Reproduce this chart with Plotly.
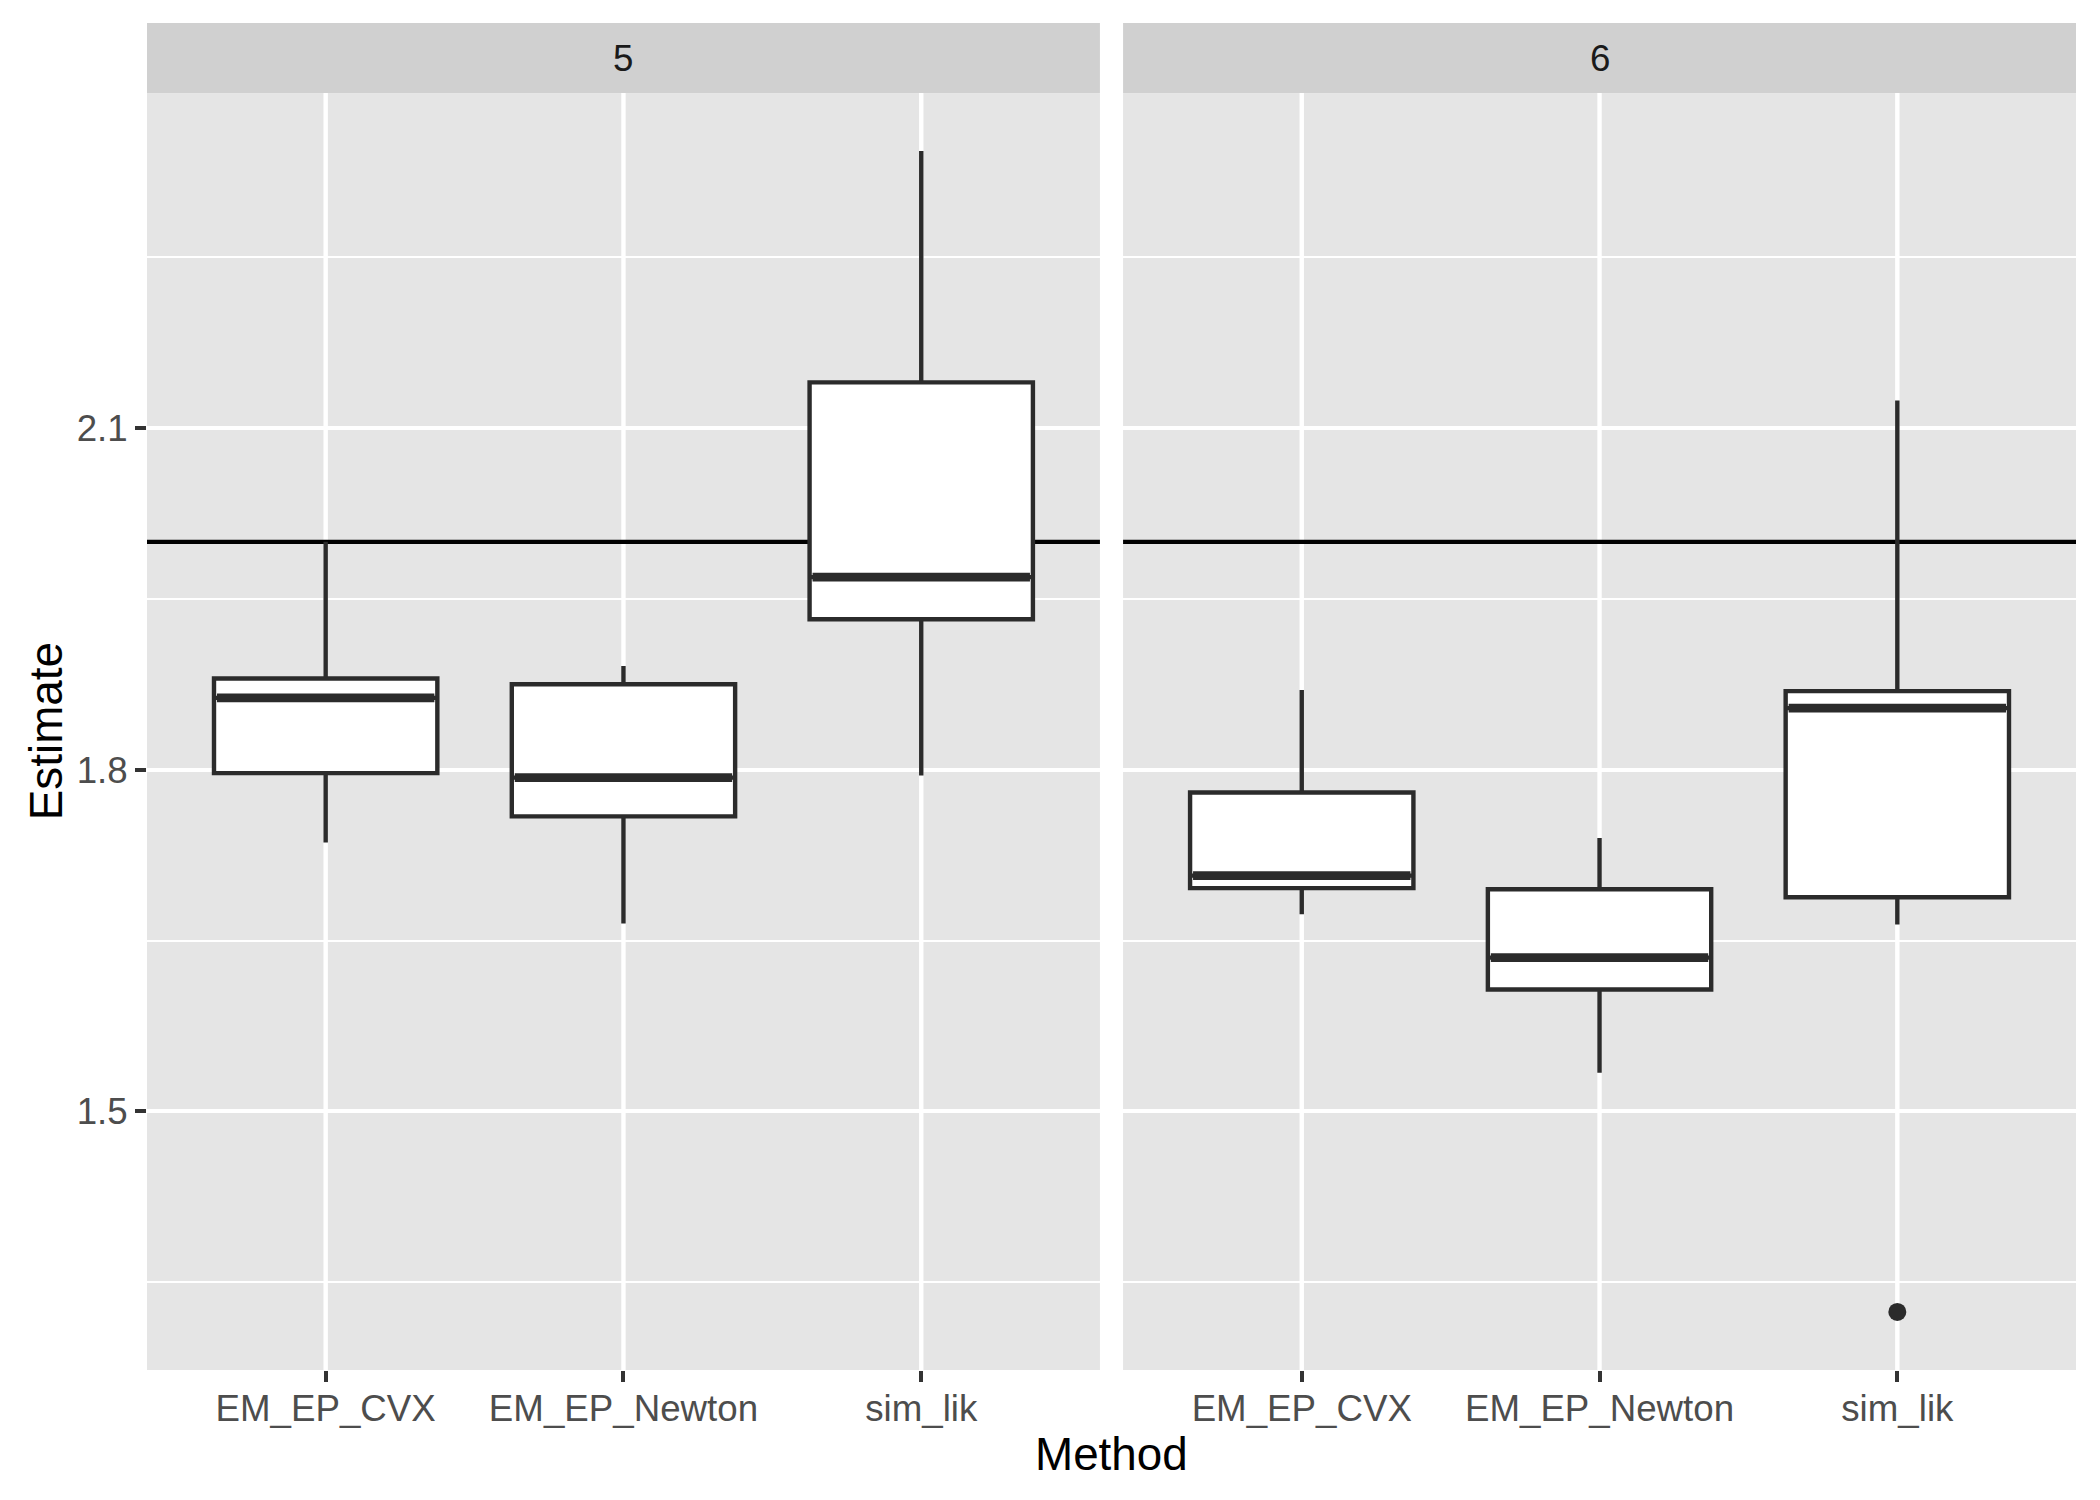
import plotly.graph_objects as go
from plotly.subplots import make_subplots

# boxplot summaries, one list per statistic and panel
methods = ["EM_EP_CVX", "EM_EP_Newton", "sim_lik"]
panels = ["5", "6"]

lower_5 = [1.736, 1.665, 1.795]
q1_5 = [1.797, 1.759, 1.932]
median_5 = [1.863, 1.793, 1.969]
q3_5 = [1.880, 1.875, 2.140]
upper_5 = [2.000, 1.891, 2.343]
outliers_5 = [[], [], []]

lower_6 = [1.673, 1.534, 1.664]
q1_6 = [1.696, 1.607, 1.688]
median_6 = [1.707, 1.635, 1.854]
q3_6 = [1.780, 1.695, 1.869]
upper_6 = [1.870, 1.740, 2.124]
outliers_6 = [[], [], [1.324]]

true_value = 2.0

y_ticks = [1.5, 1.8, 2.1]
y_minor = [1.35, 1.65, 1.95, 2.25]

BOX_WIDTH = 0.75
X_RANGE = [0.4, 3.6]
LINE_COL = "#2b2b2b"
FONT = "Liberation Sans, Arial, Helvetica, sans-serif"

stats = {
    "5": (lower_5, q1_5, median_5, q3_5, upper_5, outliers_5),
    "6": (lower_6, q1_6, median_6, q3_6, upper_6, outliers_6),
}

fig = make_subplots(rows=1, cols=2, shared_yaxes=True, horizontal_spacing=0.012)

xpos = list(range(1, len(methods) + 1))
all_vals = []
for col, p in enumerate(panels, start=1):
    lo, q1, med, q3, hi, outl = stats[p]
    all_vals += lo + hi + [v for o in outl for v in o]

    fig.add_trace(
        go.Box(
            x=xpos, q1=q1, median=med, q3=q3, lowerfence=lo, upperfence=hi,
            width=BOX_WIDTH, whiskerwidth=0, boxpoints=False,
            fillcolor="white", line=dict(color=LINE_COL, width=4.4),
            showlegend=False,
        ),
        row=1, col=col,
    )
    # ggplot draws the median twice as thick
    for x, m in zip(xpos, med):
        fig.add_trace(
            go.Scatter(
                x=[x - BOX_WIDTH / 2 + 0.01, x + BOX_WIDTH / 2 - 0.01], y=[m, m],
                mode="lines", line=dict(color=LINE_COL, width=8.9),
                showlegend=False, hoverinfo="skip",
            ),
            row=1, col=col,
        )
    ox, oy = [], []
    for x, o in zip(xpos, outl):
        ox += [x] * len(o)
        oy += o
    if oy:
        fig.add_trace(
            go.Scatter(
                x=ox, y=oy, mode="markers",
                marker=dict(color=LINE_COL, size=18),
                showlegend=False,
            ),
            row=1, col=col,
        )

    # vertical grid as shapes so the reference line can sit on top of it,
    # both under the boxes
    for x in xpos:
        fig.add_vline(x=x, line=dict(color="white", width=4.4), layer="below", row=1, col=col)
    fig.add_hline(
        y=true_value, line=dict(color="black", width=4.4), layer="below",
        row=1, col=col,
    )

lo_all, hi_all = min(all_vals), max(all_vals)
pad = 0.05 * (hi_all - lo_all)
y_range = [lo_all - pad, hi_all + pad]

panel_top = 0.948
fig.update_xaxes(
    range=X_RANGE, tickvals=xpos, ticktext=methods,
    showgrid=False, zeroline=False,
    ticks="outside", ticklen=11, tickwidth=4.4, tickcolor="#333333",
    tickfont=dict(family=FONT, size=36.7, color="#4d4d4d"),
    ticklabelstandoff=-5,
)
fig.update_layout(
    xaxis=dict(domain=[0, 0.494]),
    xaxis2=dict(domain=[0.506, 1]),
)
fig.update_yaxes(
    range=y_range, tickvals=y_ticks, ticktext=[f"{v:.1f}" for v in y_ticks],
    showgrid=True, gridcolor="white", gridwidth=4.4, zeroline=False,
    minor=dict(tickvals=y_minor, showgrid=True, gridcolor="white", gridwidth=2.2, ticks=""),
    tickfont=dict(family=FONT, size=36.7, color="#4d4d4d"),
    domain=[0, panel_top],
)
fig.update_yaxes(ticks="outside", ticklen=11, tickwidth=4.4, tickcolor="#333333", row=1, col=1)
fig.update_yaxes(ticks="", showticklabels=False, row=1, col=2)

# facet strips
for i, p in enumerate(panels):
    xref = "x domain" if i == 0 else "x2 domain"
    fig.add_shape(
        type="rect", xref=xref, yref="paper", x0=0, x1=1, y0=panel_top, y1=1,
        fillcolor="#d0d0d0", line=dict(width=0), layer="below",
    )
    fig.add_annotation(
        text=p, xref=xref, yref="paper", x=0.5, y=(panel_top + 1) / 2,
        showarrow=False, font=dict(family=FONT, size=36.7, color="#1a1a1a"),
        xanchor="center", yanchor="middle",
    )

fig.add_annotation(
    text="Method", xref="paper", yref="paper", x=0.5, y=-0.063,
    showarrow=False, font=dict(family=FONT, size=45.8, color="black"),
    xanchor="center", yanchor="middle",
)
fig.add_annotation(
    text="Estimate", xref="paper", yref="paper", x=-0.052, y=panel_top / 2,
    textangle=-90, showarrow=False, font=dict(family=FONT, size=45.8, color="black"),
    xanchor="center", yanchor="middle",
)

fig.update_layout(
    width=2100, height=1500,
    margin=dict(l=139, r=32, t=15, b=138),
    plot_bgcolor="#e5e5e5", paper_bgcolor="white",
    boxmode="overlay",
    font=dict(family=FONT),
)

fig.write_html("out.html")
